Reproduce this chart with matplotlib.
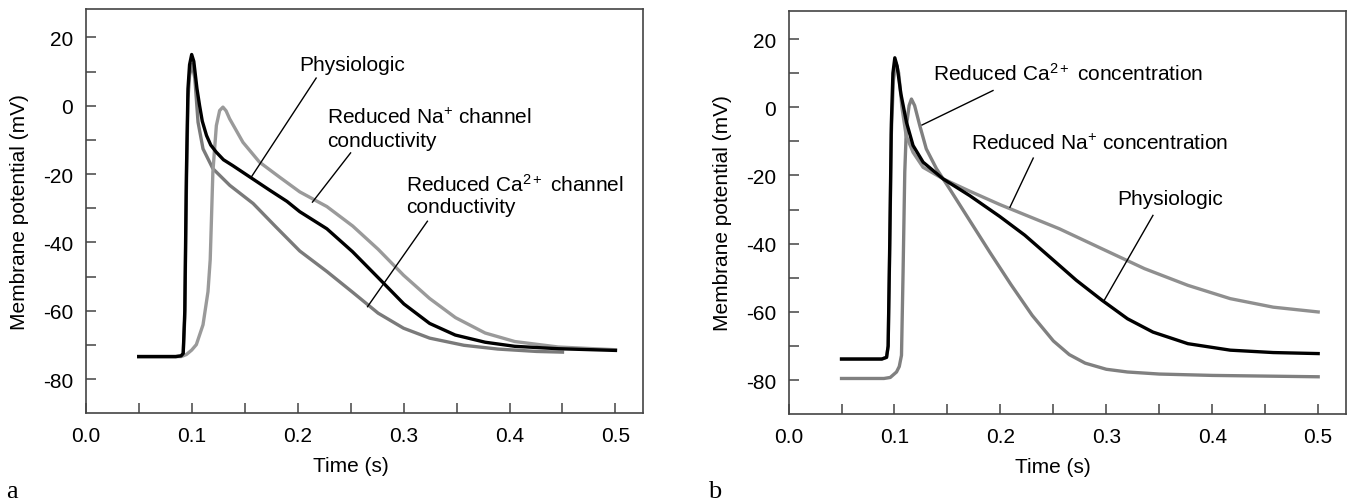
import numpy as np
import matplotlib
matplotlib.use("Agg")
import matplotlib.pyplot as plt

plt.rcParams['font.family'] = ['Liberation Sans', 'DejaVu Sans']
plt.rcParams['axes.unicode_minus'] = False
plt.rcParams['mathtext.fontset'] = 'custom'
plt.rcParams['mathtext.rm'] = 'Liberation Sans'
plt.rcParams['mathtext.it'] = 'Liberation Sans:italic'

# panel a: channel conductivity
t_a_phys = [0.05, 0.085, 0.09, 0.092, 0.0935, 0.095, 0.0965, 0.098, 0.1, 0.102, 0.105, 0.1075,
            0.11, 0.114, 0.118, 0.123, 0.13, 0.1387, 0.1547, 0.1736, 0.19, 0.202, 0.2276, 0.2518,
            0.276, 0.3003, 0.3246, 0.3488, 0.377, 0.405, 0.446, 0.5]
v_a_phys = [-73.4, -73.4, -73.2, -72.5, -60, -20, 5, 12, 15, 13, 5, 0,
            -4.5, -8.7, -11.5, -13.5, -15.8, -17.5, -20.8, -24.7, -28, -31, -36, -42.7,
            -50.3, -58, -63.7, -67.1, -69.2, -70.4, -71.1, -71.6]

t_a_na = [0.05, 0.09, 0.095, 0.1, 0.1044, 0.1107, 0.1154, 0.1175, 0.1186, 0.12, 0.1233, 0.1264,
          0.1295, 0.1325, 0.1358, 0.1484, 0.164, 0.183, 0.202, 0.2276, 0.252, 0.276, 0.3, 0.3246,
          0.349, 0.377, 0.405, 0.446, 0.5]
v_a_na = [-73.4, -73.4, -72.8, -71.5, -69.9, -64.1, -54.4, -45, -33.9, -19.4, -5.8, -1.4,
          -0.4, -1.5, -3.8, -10.7, -16.5, -20.9, -25.2, -29.5, -35.2, -42, -49.6, -56.4,
          -62, -66.5, -69, -70.6, -71.4]

t_a_ca = [0.05, 0.085, 0.09, 0.092, 0.0935, 0.095, 0.0965, 0.098, 0.1006, 0.103, 0.106, 0.1107,
          0.12, 0.136, 0.158, 0.179, 0.202, 0.2276, 0.252, 0.276, 0.3, 0.3246, 0.357, 0.389,
          0.4256, 0.45]
v_a_ca = [-73.4, -73.4, -73.2, -72.5, -62, -25, 2, 9, 12.2, 8, -4.8, -12.6,
          -18.4, -23.3, -28.6, -35.3, -42.5, -48.5, -54.6, -60.7, -65.1, -68, -70.1, -71.2,
          -71.9, -72.1]

# panel b: ion concentration
t_b_phys = [0.05, 0.088, 0.0925, 0.094, 0.0955, 0.097, 0.0985, 0.1003, 0.1025, 0.106, 0.1113,
            0.1175, 0.127, 0.1459, 0.171, 0.1993, 0.223, 0.247, 0.2716, 0.296, 0.32, 0.344,
            0.377, 0.417, 0.4576, 0.5]
v_b_phys = [-73.8, -73.8, -73.3, -70, -40, -5, 10, 14.5, 12, 4, -4.4,
            -11.2, -16.1, -21, -25.9, -32, -37.5, -44, -50.7, -56.6, -62, -65.9,
            -69.3, -71.2, -71.9, -72.2]

t_b_na = [0.05, 0.088, 0.0925, 0.094, 0.0955, 0.097, 0.099, 0.1015, 0.104, 0.107, 0.111, 0.1175,
          0.127, 0.146, 0.171, 0.1993, 0.223, 0.2555, 0.296, 0.336, 0.377, 0.417, 0.4576, 0.5]
v_b_na = [-73.8, -73.8, -73.3, -70, -42, -8, 8, 13, 10, 0, -8.3, -13.2,
          -17.6, -21, -24.6, -28.5, -31.5, -35.6, -41.5, -47.3, -52.2, -56.1, -58.6, -60]

t_b_ca = [0.05, 0.09, 0.096, 0.1019, 0.1045, 0.1066, 0.1081, 0.1097, 0.1113, 0.1138, 0.116, 0.119,
          0.1239, 0.13, 0.1396, 0.152, 0.171, 0.19, 0.21, 0.23, 0.25, 0.265, 0.28, 0.3, 0.32,
          0.35, 0.4, 0.45, 0.5]
v_b_ca = [-79.5, -79.5, -79.2, -77.6, -76, -72.7, -48.3, -19, -5.4, 0.5, 2.4, 0.5,
          -5.4, -12.2, -18, -23.9, -33.2, -42.5, -52, -61, -68.5, -72.5, -75, -76.8, -77.6,
          -78.2, -78.6, -78.8, -79]

FS = 15
fig = plt.figure(figsize=(13.48, 5.02), dpi=100)
ax_a = fig.add_axes([0.0636, 0.1747, 0.4134, 0.8053])
ax_b = fig.add_axes([0.585, 0.1727, 0.4133, 0.804])

for ax in (ax_a, ax_b):
    ax.set_xlim(0, 0.526)
    ax.set_ylim(-90, 28.3)
    xt = np.arange(0, 0.5001, 0.05)
    ax.set_xticks(xt)
    ax.set_xticklabels(['%.1f' % v if i % 2 == 0 else '' for i, v in enumerate(xt)])
    yt = np.arange(-80, 21, 10)
    ax.set_yticks(yt)
    ax.set_yticklabels(['%d' % v if v % 20 == 0 else '' for v in yt])
    ax.tick_params(direction='in', length=7, width=1.1, color='#444444',
                   labelsize=FS, pad=9)
    for s in ax.spines.values():
        s.set_color('#444444')
        s.set_linewidth(1.2)
    ax.set_xlabel('Time (s)', fontsize=FS)
    ax.xaxis.set_label_coords(0.25 / 0.526, -0.106)
    ax.set_ylabel('Membrane potential (mV)', fontsize=FS)
    ax.yaxis.set_label_coords(-0.101, 0.5)

# panel a
ax_a.plot(t_a_ca, v_a_ca, color='#7a7a7a', lw=2.4)
ax_a.plot(t_a_na, v_a_na, color='#9a9a9a', lw=2.4)
ax_a.plot(t_a_phys, v_a_phys, color='black', lw=2.4)

ax_a.text(0.2013, 12.2, 'Physiologic', fontsize=FS, va='center')
ax_a.plot([0.2175, 0.156], [8.1, -21], color='black', lw=1.0)
ax_a.text(0.228, -3.3, r'Reduced Na$^{\mathrm{+}}$ channel', fontsize=FS, va='center')
ax_a.text(0.228, -10.2, 'conductivity', fontsize=FS, va='center')
ax_a.plot([0.25, 0.214], [-13.8, -28.2], color='black', lw=1.0)
ax_a.text(0.302, -22.8, r'Reduced Ca$^{\mathrm{2+}}$ channel', fontsize=FS, va='center')
ax_a.text(0.302, -29.6, 'conductivity', fontsize=FS, va='center')
ax_a.plot([0.3225, 0.266], [-33.8, -58.8], color='black', lw=1.0)

# panel b
ax_b.plot(t_b_ca, v_b_ca, color='#808080', lw=2.4)
ax_b.plot(t_b_na, v_b_na, color='#8f8f8f', lw=2.4)
ax_b.plot(t_b_phys, v_b_phys, color='black', lw=2.4)

ax_b.text(0.136, 10, r'Reduced Ca$^{\mathrm{2+}}$ concentration', fontsize=FS, va='center')
ax_b.plot([0.193, 0.126], [4.9, -5.2], color='black', lw=1.0)
ax_b.text(0.1726, -10.4, r'Reduced Na$^{\mathrm{+}}$ concentration', fontsize=FS, va='center')
ax_b.plot([0.231, 0.209], [-14.9, -29.3], color='black', lw=1.0)
ax_b.text(0.31, -26.8, 'Physiologic', fontsize=FS, va='center')
ax_b.plot([0.344, 0.298], [-31.7, -56.6], color='black', lw=1.0)

fig.text(6 / 1348, 4 / 502, 'a', family='Liberation Serif', fontsize=19, va='baseline')
fig.text(708 / 1348, 4 / 502, 'b', family='Liberation Serif', fontsize=19, va='baseline')

fig.savefig('out.png', dpi=100)
